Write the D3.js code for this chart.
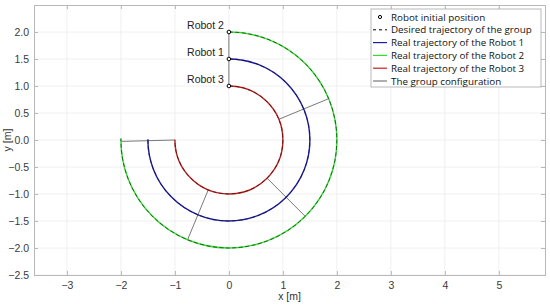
<!DOCTYPE html>
<html>
<head>
<meta charset="utf-8">
<script src="https://cdn.jsdelivr.net/npm/d3@7"></script>
<style>
  body { margin: 0; background: #fff; }
  svg { display: block; }
</style>
</head>
<body>
<svg id="chart"></svg>
<script>
const width = 550;
const height = 308;

// robots: name, radius of the circular path, end angle (deg)
const robotNames = ['Robot 1', 'Robot 2', 'Robot 3'];
const robotRadius = [1.5, 2, 1];
const robotStartAngle = [90, 90, 90];
const robotEndAngle = [-180.5, -180.75, -180.2];
const robotColors = ['#1c1cae', '#2fe02f', '#c81e1e'];

// group configuration lines (angle on the circle, deg)
const configAngles = [90, 22.5, -45, -112.5];
const configEnd = { inner: [-1, 0], outer: [-2, -0.026] };

const xTicks = [-3, -2, -1, 0, 1, 2, 3, 4, 5];
const yTicks = [-2.5, -2, -1.5, -1, -0.5, 0, 0.5, 1, 1.5, 2];

const legendLabels = [
  'Robot initial position',
  'Desired trajectory of the group',
  'Real trajectory of the Robot 1',
  'Real trajectory of the Robot 2',
  'Real trajectory of the Robot 3',
  'The group configuration'
];

const plot = { left: 34, right: 545, top: 5, bottom: 275 };

const x = d3.scaleLinear().domain([-3.61, 5.855]).range([plot.left, plot.right]);
const y = d3.scaleLinear().domain([-2.5, 2.5]).range([plot.bottom, plot.top]);
const pxPerUnit = x(1) - x(0);

const svg = d3.select('#chart').attr('width', width).attr('height', height);

// grid
svg.append('g').selectAll('line').data(xTicks).enter().append('line')
  .attr('x1', d => x(d)).attr('x2', d => x(d))
  .attr('y1', plot.top).attr('y2', plot.bottom)
  .attr('stroke', '#ececec').attr('stroke-width', 0.8);
svg.append('g').selectAll('line').data(yTicks).enter().append('line')
  .attr('x1', plot.left).attr('x2', plot.right)
  .attr('y1', d => y(d)).attr('y2', d => y(d))
  .attr('stroke', '#ececec').attr('stroke-width', 0.8);

// axes
const xAxis = d3.axisBottom(x).tickValues(xTicks).tickSize(-4).tickPadding(7);
const yAxis = d3.axisLeft(y).tickValues(yTicks).tickSize(-4).tickPadding(5);

svg.append('g').attr('transform', `translate(0, ${plot.bottom})`).call(xAxis);
svg.append('g').attr('transform', `translate(${plot.left}, 0)`).call(yAxis);
svg.append('g').attr('transform', `translate(0, ${plot.top})`)
  .call(d3.axisTop(x).tickValues(xTicks).tickSize(-4).tickFormat(''));
svg.append('g').attr('transform', `translate(${plot.right}, 0)`)
  .call(d3.axisRight(y).tickValues(yTicks).tickSize(-4).tickFormat(''));

svg.selectAll('.domain, .tick line').attr('stroke', '#b8b8b8');
svg.selectAll('.tick text')
  .attr('font-family', 'Liberation Sans, Arial, sans-serif')
  .attr('font-size', '10.5px')
  .attr('fill', '#3a3a3a');

svg.append('text')
  .attr('x', (plot.left + plot.right) / 2).attr('y', 300)
  .attr('text-anchor', 'middle')
  .attr('font-family', 'Liberation Sans, Arial, sans-serif')
  .attr('font-size', '10.5px').attr('fill', '#333')
  .text('x [m]');

svg.append('text')
  .attr('transform', `translate(11, ${(plot.top + plot.bottom) / 2}) rotate(-90)`)
  .attr('text-anchor', 'middle')
  .attr('font-family', 'Liberation Sans, Arial, sans-serif')
  .attr('font-size', '10.5px').attr('fill', '#333')
  .text('y [m]');

// arcs
const rad = d => (d * Math.PI) / 180;
const arcPath = (r, a0, a1) => {
  const p = d3.path();
  // screen y points down, so angles are negated
  p.arc(x(0), y(0), r * pxPerUnit, -rad(a0), -rad(a1), false);
  return p.toString();
};

const lines = svg.append('g');

// group configuration
const configData = configAngles.map(a => ({ a }));
lines.selectAll('.cfg').data(configData).enter().append('line')
  .attr('x1', d => x(d3.min(robotRadius) * Math.cos(rad(d.a))))
  .attr('y1', d => y(d3.min(robotRadius) * Math.sin(rad(d.a))))
  .attr('x2', d => x(d3.max(robotRadius) * Math.cos(rad(d.a))))
  .attr('y2', d => y(d3.max(robotRadius) * Math.sin(rad(d.a))))
  .attr('stroke', '#7a7a7a').attr('stroke-width', 1);
lines.append('line')
  .attr('x1', x(configEnd.inner[0])).attr('y1', y(configEnd.inner[1]))
  .attr('x2', x(configEnd.outer[0])).attr('y2', y(configEnd.outer[1]))
  .attr('stroke', '#7a7a7a').attr('stroke-width', 1);

const robots = robotNames.map((name, i) => ({
  name, r: robotRadius[i], a0: robotStartAngle[i], a1: robotEndAngle[i], color: robotColors[i]
}));

lines.selectAll('.real').data(robots).enter().append('path')
  .attr('d', d => arcPath(d.r, d.a0, d.a1))
  .attr('fill', 'none').attr('stroke', d => d.color).attr('stroke-width', 1.4);

lines.selectAll('.desired').data(robots).enter().append('path')
  .attr('d', d => arcPath(d.r, d.a0, d.a1))
  .attr('fill', 'none').attr('stroke', '#111').attr('stroke-width', 0.9)
  .attr('stroke-dasharray', '4,2.5').attr('opacity', 0.7);

// initial positions
lines.selectAll('.start').data(robots).enter().append('circle')
  .attr('cx', d => x(d.r * Math.cos(rad(d.a0))))
  .attr('cy', d => y(d.r * Math.sin(rad(d.a0))))
  .attr('r', 1.8)
  .attr('fill', '#fff').attr('stroke', '#000').attr('stroke-width', 1);

lines.selectAll('.label').data(robots).enter().append('text')
  .attr('x', d => x(d.r * Math.cos(rad(d.a0))) - 5)
  .attr('y', d => y(d.r * Math.sin(rad(d.a0))) - 3)
  .attr('text-anchor', 'end')
  .attr('font-family', 'Liberation Sans, Arial, sans-serif')
  .attr('font-size', '10.5px').attr('fill', '#222')
  .text(d => d.name);

// legend
const legend = svg.append('g').attr('transform', 'translate(371, 9)');
legend.append('rect')
  .attr('width', 170).attr('height', 78)
  .attr('fill', '#fff').attr('stroke', '#a8a8a8').attr('stroke-width', 0.8);

const rowY = i => 8 + i * 12.8;
const rows = legend.selectAll('.row').data(legendLabels).enter().append('g')
  .attr('transform', (d, i) => `translate(0, ${rowY(i)})`);

rows.append('text')
  .attr('x', 20).attr('y', 3.6)
  .attr('font-family', 'Open Sans, sans-serif')
  .attr('font-size', '9.8px').attr('fill', '#111')
  .text(d => d);

const swatch = legend.append('g');
swatch.append('circle').attr('cx', 9).attr('cy', rowY(0)).attr('r', 1.6)
  .attr('fill', '#fff').attr('stroke', '#000').attr('stroke-width', 1);
swatch.append('line').attr('x1', 2).attr('x2', 16).attr('y1', rowY(1)).attr('y2', rowY(1))
  .attr('stroke', '#000').attr('stroke-width', 1).attr('stroke-dasharray', '3,3');
const legendLineColors = [robotColors[0], robotColors[1], robotColors[2], '#7a7a7a'];
swatch.selectAll('.ll').data(legendLineColors).enter().append('line')
  .attr('x1', 2).attr('x2', 16)
  .attr('y1', (d, i) => rowY(i + 2)).attr('y2', (d, i) => rowY(i + 2))
  .attr('stroke', d => d).attr('stroke-width', 1.2);
</script>
</body>
</html>
